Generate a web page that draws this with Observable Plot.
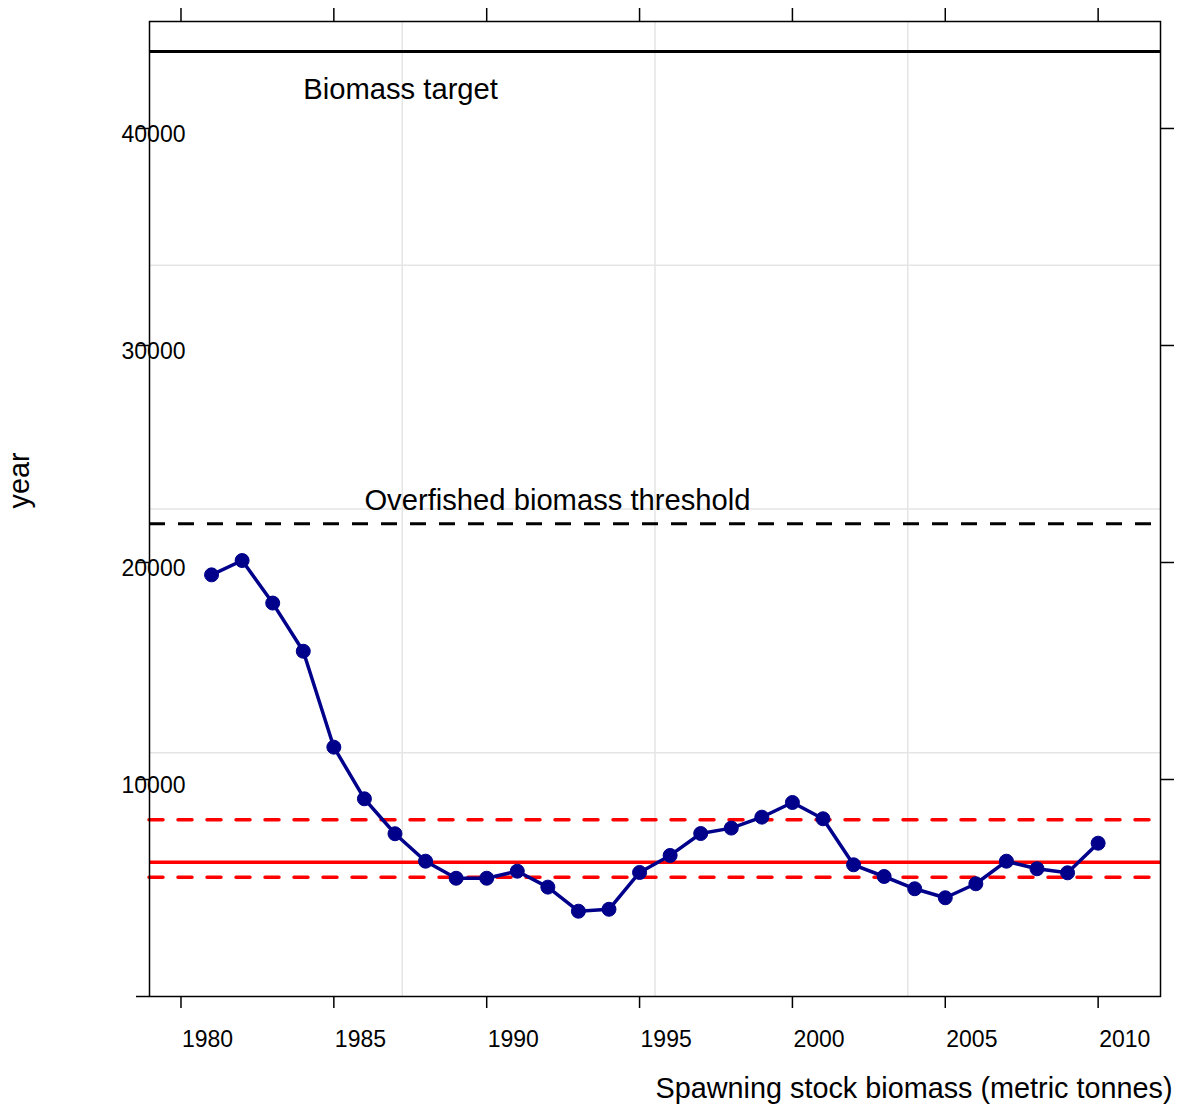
<!DOCTYPE html>
<html>
<head>
<meta charset="utf-8">
<script src="https://cdn.jsdelivr.net/npm/d3@7"></script>
<script src="https://cdn.jsdelivr.net/npm/@observablehq/plot@0.6"></script>
<style>
  html, body { margin: 0; padding: 0; background: white; }
  #chart { width: 1179px; height: 1106px; }
</style>
</head>
<body>
<div id="chart"></div>
<script>
// ---- data ----
const years = [1981,1982,1983,1984,1985,1986,1987,1988,1989,1990,1991,1992,1993,1994,1995,
               1996,1997,1998,1999,2000,2001,2002,2003,2004,2005,2006,2007,2008,2009,2010];
const ssb = [19430,20090,18130,15910,11490,9110,7500,6235,5450,5450,5775,5040,3930,4020,5715,
             6500,7510,7760,8265,8940,8190,6070,5530,4965,4550,5195,6235,5885,5700,7065];
const biomassTarget = 43550;
const overfishedThreshold = 21780;
const redMid = 6190;
const redUpper = 8145;
const redLower = 5500;
const xTicks = [1980,1985,1990,1995,2000,2005,2010];
const yTicks = [0,10000,20000,30000,40000];
const yTickLabels = [10000,20000,30000,40000];
const annotations = [
  {x: 1984, y: 41340, text: "Biomass target"},
  {x: 1986, y: 22440, text: "Overfished biomass threshold"}
];
const xLabel = "Spawning stock biomass (metric tonnes)";
const yLabel = "year";

const xDomain = [1978.97, 2012.04];
const yDomain = [0, 44930];
const quarter = (d) => [1,2,3].map(k => d[0] + k * (d[1] - d[0]) / 4);

const rows = years.map((y, i) => ({year: y, ssb: ssb[i]}));
const navy = "#00008B";

const chart = Plot.plot({
  width: 1179,
  height: 1106,
  marginTop: 21,
  marginLeft: 149,
  marginRight: 19,
  marginBottom: 110,
  style: {fontFamily: "'Liberation Sans', Arial, sans-serif", fontSize: "23px", background: "white", color: "black"},
  x: {domain: xDomain, label: null},
  y: {domain: yDomain, label: null},
  marks: [
    Plot.gridX(quarter(xDomain), {stroke: "#e5e5e5", strokeOpacity: 1, strokeWidth: 1.5}),
    Plot.gridY(quarter(yDomain), {stroke: "#e5e5e5", strokeOpacity: 1, strokeWidth: 1.5}),
    Plot.ruleY([biomassTarget], {stroke: "black", strokeWidth: 3}),
    Plot.ruleY([overfishedThreshold], {stroke: "black", strokeWidth: 3, strokeDasharray: "16,13"}),
    Plot.ruleY([redMid], {stroke: "#FF0000", strokeWidth: 3.5}),
    Plot.ruleY([redUpper, redLower], {stroke: "#FF0000", strokeWidth: 3.5, strokeDasharray: "14,15", strokeLinecap: "round"}),
    Plot.line(rows, {x: "year", y: "ssb", stroke: navy, strokeWidth: 3.5}),
    Plot.dot(rows, {x: "year", y: "ssb", r: 7, fill: navy, stroke: navy, strokeWidth: 1}),
    Plot.frame({stroke: "black", strokeWidth: 1.5}),
    Plot.axisX({anchor: "bottom", ticks: xTicks, tickSize: 12, tickFormat: () => "", label: null, strokeWidth: 1.5}),
    Plot.axisX({anchor: "top", ticks: xTicks, tickSize: 14, tickFormat: () => "", label: null, strokeWidth: 1.5}),
    Plot.axisY({anchor: "left", ticks: yTicks, tickSize: 13, tickFormat: () => "", label: null, strokeWidth: 1.5}),
    Plot.axisY({anchor: "right", ticks: yTickLabels, tickSize: 13, tickFormat: () => "", label: null, strokeWidth: 1.5}),
    Plot.text(xTicks, {x: d => d, frameAnchor: "bottom", dy: 50, dx: 1, textAnchor: "start", lineAnchor: "bottom", text: d => String(d), fontSize: 23, fill: "black"}),
    Plot.text(yTickLabels, {y: d => d, frameAnchor: "left", dx: 36, dy: 14, textAnchor: "end", lineAnchor: "bottom", text: d => String(d), fontSize: 23, fill: "black"}),
    Plot.text(annotations, {x: "x", y: "y", text: "text", textAnchor: "start", lineAnchor: "bottom", fontSize: 29.2, fill: "black"}),
    Plot.text([xLabel], {frameAnchor: "bottom-right", dx: 12, dy: 101, textAnchor: "end", lineAnchor: "bottom", text: d => d, fontSize: 28.8, fill: "black"}),
    Plot.text([yLabel], {frameAnchor: "left", dx: -121, dy: -28.5, rotate: -90, textAnchor: "middle", lineAnchor: "bottom", text: d => d, fontSize: 28.8, fill: "black"})
  ]
});
document.getElementById("chart").appendChild(chart);
</script>
</body>
</html>
